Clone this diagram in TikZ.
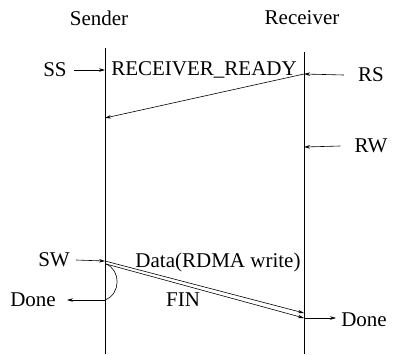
\documentclass[tikz,border=0pt]{standalone}
\usepackage{fontspec}
\setmainfont{Liberation Serif}
\usetikzlibrary{arrows.meta}
\begin{document}
\begin{tikzpicture}[x=1pt,y=-1pt,line width=0.6pt,
  lbl/.style={font=\fontsize{21}{23}\selectfont,inner sep=0pt},
  msg/.style={-{Stealth[length=6pt,width=3.5pt]}}]
\useasboundingbox (0,0) rectangle (394,354);

% party headings
\node[lbl] (snd) at (99,18) {Sender};
\node[lbl] (rcv) at (302,18) {Receiver};

% lifelines
\coordinate (sTop) at (105,48);
\coordinate (sBot) at (105,354);
\coordinate (rTop) at (304,52);
\coordinate (rBot) at (304,354);
\draw (sTop) -- (sBot);
\draw (rTop) -- (rBot);

% event points on the lifelines
\coordinate (sSS) at (105,70);
\coordinate (rRS) at (304,74);
\coordinate (sRdy) at (105,118);
\coordinate (rRW) at (304,147);
\coordinate (sSW) at (105,261);
\coordinate (sSW2) at (106,264);
\coordinate (sDone) at (105,300);
\coordinate (rData) at (304,313);
\coordinate (rFin) at (304,318);
\coordinate (rDoneTip) at (336,318);
\coordinate (sDoneTip) at (67,300);

% side labels
\node[lbl] (ss) at (55,70) {SS};
\node[lbl] (rs) at (371,75) {RS};
\node[lbl] (rw) at (371,146) {RW};
\node[lbl] (sw) at (54,260) {SW};
\node[lbl] (dl) at (33,300) {Done};
\node[lbl] (dr) at (364,320) {Done};

% message labels
\node[lbl] (ready) at (204,70) {RECEIVER\_READY};
\node[lbl] (data) at (218,262) {Data(RDMA write)};
\node[lbl] (fin) at (183,300) {FIN};

% call arrows into the lifelines
\draw[msg] ([xshift=7pt]ss.east) -- (sSS);
\draw[msg] ([xshift=-14pt]rs.west) -- (rRS);
\draw[msg] ([xshift=-14pt]rw.west) -- (rRW);
\draw[msg] ([xshift=6pt]sw.east) -- (sSW);

% messages between the parties
\draw[msg] (rRS) -- (sRdy);
\draw[msg] (sSW) -- (rData);
\draw[msg] (sSW2) -- (rFin);

% local completion on the sender side
\draw (sSW2) .. controls (121,270) and (121,294) .. (sDone);
\draw[msg] (sDone) -- (sDoneTip);
\draw[msg] (rFin) -- (rDoneTip);
\end{tikzpicture}
\end{document}
